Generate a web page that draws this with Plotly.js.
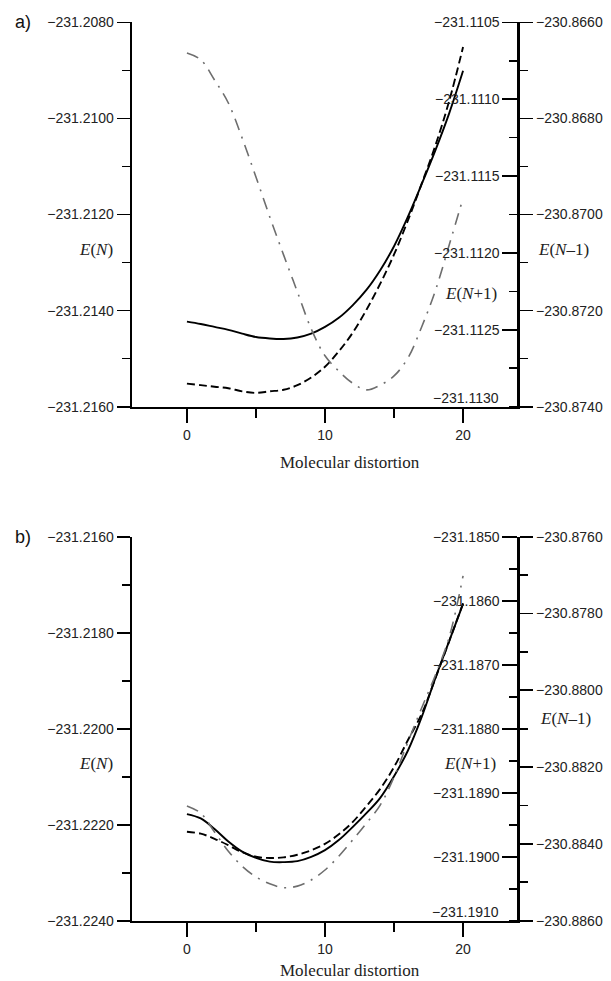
<!DOCTYPE html>
<html>
<head>
<meta charset="utf-8">
<script src="https://cdn.plot.ly/plotly-3.0.1.min.js"></script>
<style>html,body{margin:0;padding:0;background:#fff}#chart{width:611px;height:981px}</style>
</head>
<body>
<div id="chart"></div>
<script>
// Molecular distortion coordinate
const distortion = [0,1,2,3,4,5,6,7,8,9,10,11,12,13,14,15,16,17,18,19,20];

// Panel a)
const aEN = [-231.21423,-231.21428,-231.21434,-231.21440,-231.21448,-231.21455,-231.21458,-231.21459,-231.21456,-231.21448,-231.21434,-231.21415,-231.21389,-231.21357,-231.21316,-231.21266,-231.21205,-231.21137,-231.21066,-231.20989,-231.20901];
const aENplus1 = [-231.11285,-231.11286,-231.11287,-231.11288,-231.11290,-231.11291,-231.11290,-231.11289,-231.11286,-231.11281,-231.11274,-231.11264,-231.11252,-231.11237,-231.11220,-231.11201,-231.11179,-231.11155,-231.11130,-231.11101,-231.11066];
const aENminus1 = [-230.86664,-230.86678,-230.86720,-230.86768,-230.86841,-230.86922,-230.87005,-230.87084,-230.87161,-230.87238,-230.87294,-230.87326,-230.87351,-230.87365,-230.87355,-230.87336,-230.87299,-230.87234,-230.87158,-230.87063,-230.86966];

// Panel b)
const bEN = [-231.22178,-231.22187,-231.22209,-231.22235,-231.22256,-231.22269,-231.22277,-231.22278,-231.22276,-231.22267,-231.22253,-231.22232,-231.22205,-231.22176,-231.22144,-231.22099,-231.22046,-231.21976,-231.21894,-231.21817,-231.21740];
const bENplus1 = [-231.18961,-231.18964,-231.18972,-231.18982,-231.18993,-231.19000,-231.19002,-231.19001,-231.18997,-231.18990,-231.18980,-231.18965,-231.18946,-231.18921,-231.18894,-231.18860,-231.18818,-231.18777,-231.18721,-231.18663,-231.18604];
const bENminus1 = [-230.88301,-230.88320,-230.88369,-230.88419,-230.88458,-230.88486,-230.88504,-230.88514,-230.88510,-230.88494,-230.88468,-230.88432,-230.88390,-230.88346,-230.88299,-230.88226,-230.88135,-230.88046,-230.87960,-230.87861,-230.87702];

// Axis ranges [min, max]
const aRangeEN = [-231.2160, -231.2080], aRangeENp1 = [-231.1130, -231.1105], aRangeENm1 = [-230.8740, -230.8660];
const bRangeEN = [-231.2240, -231.2160], bRangeENp1 = [-231.1910, -231.1850], bRangeENm1 = [-230.8860, -230.8760];
const xRange = [-4, 24];

// E(N+1) tick values (bottom one is written as a lifted label)
const aTicksENp1 = [-231.1105, -231.1110, -231.1115, -231.1120, -231.1125];
const bTicksENp1 = [-231.1850, -231.1860, -231.1870, -231.1880, -231.1890, -231.1900];
const aBottomLabel = '\u2212231.1130';
const bBottomLabel = '\u2212231.1910';

const panelLabels = ['a)', 'b)'];
const xTitle = 'Molecular distortion';

const eps = 1e-9;
const rng = r => [r[0] - eps, r[1] + eps];

const solid = {color: '#000', width: 1.9, shape: 'spline', smoothing: 1};
const dashed = {color: '#000', width: 1.9, dash: '8px,4px', shape: 'spline', smoothing: 1};
const dashdot = {color: '#6e6e6e', width: 1.6, dash: '12px,7px,2px,7px', shape: 'spline', smoothing: 1};

const traces = [
  {x: distortion, y: aEN, xaxis: 'x', yaxis: 'y', mode: 'lines', line: solid, name: 'E(N) a'},
  {x: distortion, y: aENplus1, xaxis: 'x', yaxis: 'y2', mode: 'lines', line: dashed, name: 'E(N+1) a'},
  {x: distortion, y: aENminus1, xaxis: 'x', yaxis: 'y3', mode: 'lines', line: dashdot, name: 'E(N-1) a'},
  {x: distortion, y: bEN, xaxis: 'x2', yaxis: 'y4', mode: 'lines', line: solid, name: 'E(N) b'},
  {x: distortion, y: bENplus1, xaxis: 'x2', yaxis: 'y5', mode: 'lines', line: dashed, name: 'E(N+1) b'},
  {x: distortion, y: bENminus1, xaxis: 'x2', yaxis: 'y6', mode: 'lines', line: dashdot, name: 'E(N-1) b'}
];

const W = 611, H = 981;
const xDom = [131.7 / W, 518.3 / W];
const aDom = [1 - 406.7 / H, 1 - 22.3 / H];
const bDom = [1 - 920.7 / H, 1 - 536.7 / H];

const tickFont = {family: 'Liberation Sans, Arial, sans-serif', size: 14, color: '#222'};
const serif = 'Liberation Serif, Times New Roman, serif';

function xAxis(anchor) {
  return {
    domain: xDom, anchor: anchor, range: xRange, dtick: 10, tick0: 0,
    ticks: 'outside', ticklen: 14, tickwidth: 1.6, tickcolor: '#000',
    minor: {dtick: 5, tick0: 0, ticks: 'outside', ticklen: 9, tickwidth: 1.6, tickcolor: '#000'},
    showline: true, linewidth: 2, linecolor: '#000', showgrid: false, zeroline: false,
    tickfont: tickFont, fixedrange: true
  };
}
function yLeft(dom, anchor, r, dt) {
  return {
    domain: dom, anchor: anchor, range: rng(r), dtick: dt, tick0: 0, tickformat: '.4f',
    ticks: 'outside', ticklen: 13, tickwidth: 1.6, tickcolor: '#000',
    minor: {dtick: dt / 2, tick0: 0, ticks: 'outside', ticklen: 8, tickwidth: 1.6, tickcolor: '#000'},
    showline: true, linewidth: 2, linecolor: '#000', showgrid: false, zeroline: false,
    tickfont: tickFont, fixedrange: true
  };
}
function yInner(over, r, vals, dt) {
  return {
    overlaying: over, side: 'left', anchor: 'free', position: xDom[1], range: rng(r),
    tickmode: 'array', tickvals: vals, tickformat: '.4f',
    ticks: 'outside', ticklen: 15, tickwidth: 1.6, tickcolor: '#000',
    minor: {dtick: dt / 2, tick0: 0, ticks: 'outside', ticklen: 8, tickwidth: 1.6, tickcolor: '#000'},
    showline: true, linewidth: 2, linecolor: '#000', showgrid: false, zeroline: false,
    tickfont: tickFont, fixedrange: true
  };
}
function yRight(over, anchor, r, dt) {
  return {
    overlaying: over, side: 'right', anchor: anchor, range: rng(r), dtick: dt, tick0: 0, tickformat: '.4f',
    ticks: 'outside', ticklen: 13, tickwidth: 1.6, tickcolor: '#000',
    minor: {dtick: dt / 2, tick0: 0, ticks: 'outside', ticklen: 8, tickwidth: 1.6, tickcolor: '#000'},
    showline: true, linewidth: 2, linecolor: '#000', showgrid: false, zeroline: false,
    tickfont: tickFont, fixedrange: true
  };
}

function ann(text, px, py, font, xa) {
  return {text: text, x: px / W, y: 1 - py / H, xref: 'paper', yref: 'paper',
          xanchor: xa || 'center', yanchor: 'middle', showarrow: false, font: font};
}
const titleFont = {family: serif, size: 17, color: '#222'};
const xtFont = {family: serif, size: 17, color: '#222'};
const panelFont = {family: 'Liberation Sans, Arial, sans-serif', size: 18, color: '#111'};

const layout = {
  width: W, height: H,
  margin: {l: 0, r: 0, t: 0, b: 0, pad: 0},
  paper_bgcolor: '#fff', plot_bgcolor: '#fff',
  showlegend: false,
  xaxis: xAxis('y'),
  xaxis2: xAxis('y4'),
  yaxis: yLeft(aDom, 'x', aRangeEN, 0.002),
  yaxis2: yInner('y', aRangeENp1, aTicksENp1, 0.0005),
  yaxis3: yRight('y', 'x', aRangeENm1, 0.002),
  yaxis4: yLeft(bDom, 'x2', bRangeEN, 0.002),
  yaxis5: yInner('y4', bRangeENp1, bTicksENp1, 0.001),
  yaxis6: yRight('y4', 'x2', bRangeENm1, 0.002),
  annotations: [
    ann(panelLabels[0], 23, 22, panelFont),
    ann(panelLabels[1], 23, 537, panelFont),
    ann('<i>E</i>(<i>N</i>)', 96, 249, titleFont),
    ann('<i>E</i>(<i>N</i>+1)', 471, 293, titleFont),
    ann('<i>E</i>(<i>N</i>\u20131)', 563, 249, titleFont),
    ann(xTitle, 350, 462, xtFont),
    ann('<i>E</i>(<i>N</i>)', 96, 763, titleFont),
    ann('<i>E</i>(<i>N</i>+1)', 470, 763, titleFont),
    ann('<i>E</i>(<i>N</i>\u20131)', 565, 718, titleFont),
    ann(xTitle, 350, 970, xtFont),
    ann(aBottomLabel, 501, 398, tickFont, 'right'),
    ann(bBottomLabel, 501, 912, tickFont, 'right')
  ]
};

Plotly.newPlot('chart', traces, layout, {staticPlot: true, displayModeBar: false});
</script>
</body>
</html>
